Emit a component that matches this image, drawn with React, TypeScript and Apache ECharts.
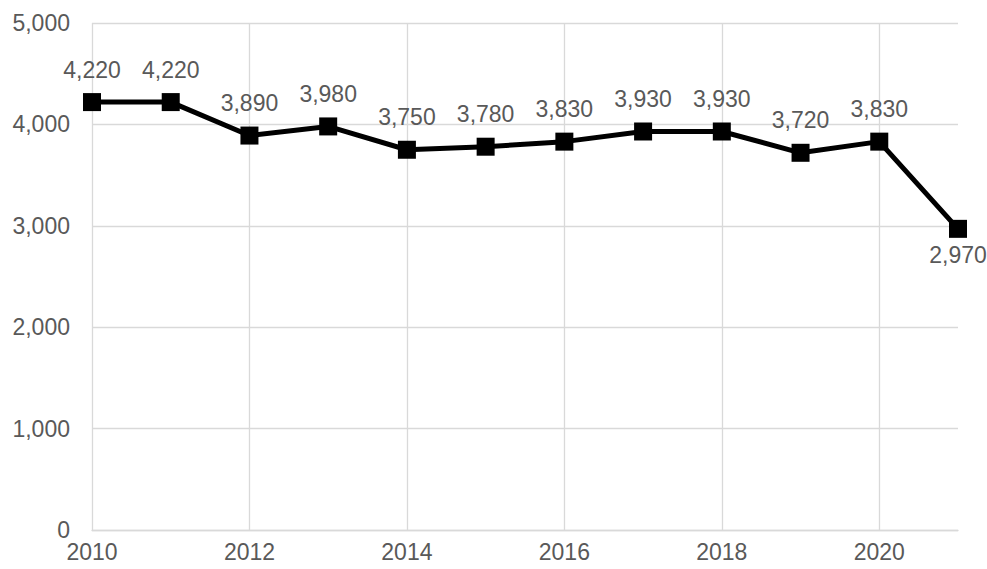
import React, { useEffect, useRef } from "react";
import * as echarts from "echarts";

const years = [2010, 2011, 2012, 2013, 2014, 2015, 2016, 2017, 2018, 2019, 2020, 2021];
const values = [4220, 4220, 3890, 3980, 3750, 3780, 3830, 3930, 3930, 3720, 3830, 2970];
const labelBelow = [false, false, false, false, false, false, false, false, false, false, false, true];

const fmt = (v: number) => v.toLocaleString("en-US");

export default function App() {
  const ref = useRef<HTMLDivElement>(null);
  useEffect(() => {
    if (!ref.current) return;
    const chart = echarts.init(ref.current, null, { renderer: "svg" });
    const font = "'Liberation Sans', Arial, sans-serif";
    chart.setOption({
      animation: false,
      grid: { left: 92, right: 29, top: 23, bottom: 39, containLabel: false },
      xAxis: {
        type: "value",
        min: 2010,
        max: 2021,
        interval: 2,
        axisLine: { show: true, lineStyle: { color: "#d9d9d9", width: 1.3 } },
        axisTick: { show: false },
        splitLine: { show: true, showMaxLine: false, lineStyle: { color: "#d9d9d9", width: 1.3 } },
        axisLabel: {
          showMaxLabel: false,
          color: "#595959",
          fontSize: 23,
          fontFamily: font,
          margin: 10,
          formatter: (v: number) => (v % 2 === 0 ? String(v) : ""),
        },
      },
      yAxis: {
        type: "value",
        min: 0,
        max: 5000,
        interval: 1000,
        axisLine: { show: false },
        axisTick: { show: false },
        splitLine: { show: true, lineStyle: { color: "#d9d9d9", width: 1.3 } },
        axisLabel: {
          color: "#595959",
          fontSize: 23,
          fontFamily: font,
          margin: 22,
          formatter: (v: number) => fmt(v),
        },
      },
      series: [
        {
          type: "line",
          data: years.map((y, i) => ({
            value: [y, values[i]],
            label: labelBelow[i]
              ? { position: "bottom", distance: 6 }
              : { position: "top", distance: 12 },
          })),
          lineStyle: { color: "#000000", width: 5 },
          itemStyle: { color: "#000000" },
          symbol: "rect",
          symbolSize: 18,
          showAllSymbol: true,
          label: {
            show: true,
            color: "#595959",
            fontSize: 23,
            fontFamily: font,
            formatter: (p: any) => fmt(p.value[1]),
          },
        },
      ],
    });
    return () => chart.dispose();
  }, []);
  return <div ref={ref} style={{ width: 987, height: 569, position: "absolute", left: 0, top: 0 }} />;
}
